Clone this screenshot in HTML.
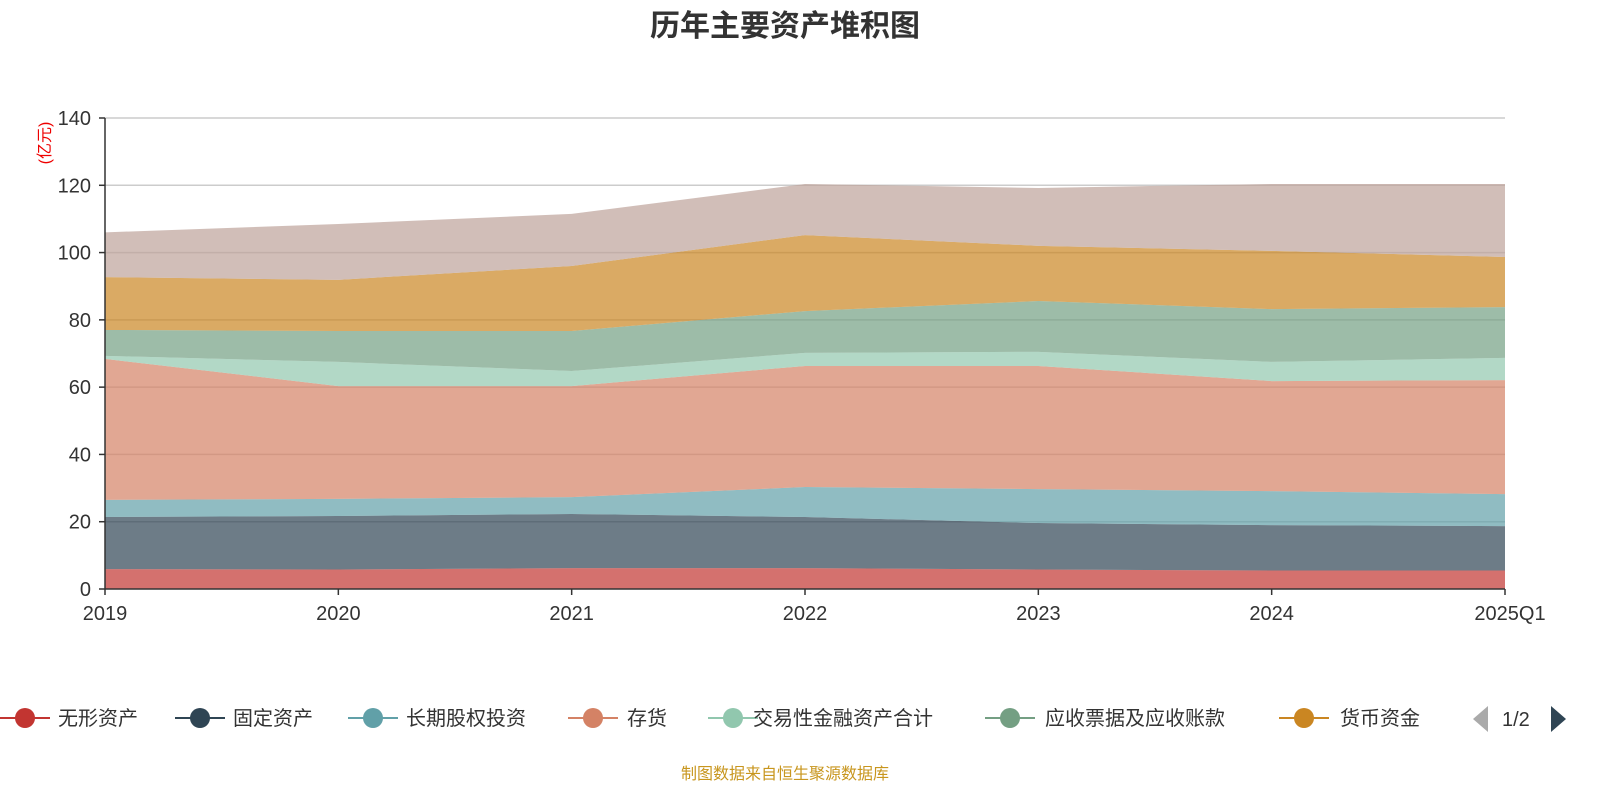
<!DOCTYPE html>
<html><head><meta charset="utf-8"><style>
html,body{margin:0;padding:0;background:#fff;}
svg{display:block;font-family:"Liberation Sans","Noto Sans CJK SC",sans-serif;}
</style></head><body>
<svg id="chart" width="1600" height="800">
<text x="785" y="36" text-anchor="middle" font-size="30" font-weight="bold" fill="#333">历年主要资产堆积图</text>
<text transform="translate(50,143) rotate(-90)" text-anchor="middle" font-size="16" fill="#e00">(亿元)</text>
<g id="grid"></g>
<g id="areas"></g>
<g id="axes"></g>
<g id="legend"></g>
<text x="785" y="779" text-anchor="middle" font-size="16" fill="#c8961e">制图数据来自恒生聚源数据库</text>
</svg>
<script>
const categories=["2019","2020","2021","2022","2023","2024","2025Q1"];
const seriesNames=["无形资产","固定资产","长期股权投资","存货","交易性金融资产合计","应收票据及应收账款","货币资金","其他"];
const s0=[5.9,5.8,6.2,6.2,5.8,5.5,5.5];
const s1=[15.5,15.9,16.1,15.2,13.8,13.5,13.2];
const s2=[5.1,5.1,5.0,8.9,10.1,10.1,9.5];
const s3=[41.9,33.5,33.0,36.0,36.6,32.7,33.9];
const s4=[0.9,7.2,4.5,3.9,4.2,5.7,6.6];
const s5=[7.7,9.2,11.9,12.4,15.1,15.7,15.1];
const s6=[15.7,15.2,19.3,22.6,16.4,17.3,14.9];
const s7=[13.3,16.6,15.5,15.2,17.2,19.9,21.7];
const yTicks=[0,20,40,60,80,100,120,140];
const colors=["#c23531","#2f4554","#61a0a8","#d48265","#91c7ae","#749f83","#ca8622","#bda29a"];
const NS="http://www.w3.org/2000/svg";
const X0=105,X1=1505,Y0=589,Y1=118,YMAX=140;
const xs=i=>X0+(X1-X0)*i/(categories.length-1);
const ys=v=>Y0-(Y0-Y1)*v/YMAX;
function mk(t,a,p){const e=document.createElementNS(NS,t);for(const k in a)e.setAttribute(k,a[k]);p.appendChild(e);return e;}
const grid=document.getElementById('grid'),areas=document.getElementById('areas'),axes=document.getElementById('axes'),legend=document.getElementById('legend');
yTicks.forEach(v=>{
 if(v>0){const l=mk('line',{x1:X0,x2:X1,y1:ys(v),y2:ys(v),stroke:'#ccc','stroke-width':1.5},grid);
 
 }
 const t=mk('text',{x:X0-14,y:ys(v)+7,'text-anchor':'end','font-size':20,fill:'#333'},axes);t.textContent=v;
 
 
 mk('line',{x1:X0-6,x2:X0,y1:ys(v),y2:ys(v),stroke:'#333','stroke-width':1.5},axes);
});
const series=[s0,s1,s2,s3,s4,s5,s6,s7];
let base=categories.map(()=>0);
series.forEach((s,k)=>{
 const top=base.map((b,i)=>b+s[i]);
 let d='M'+top.map((v,i)=>xs(i)+','+ys(v)).join(' L');
 for(let i=categories.length-1;i>=0;i--)d+=' L'+xs(i)+','+ys(base[i]);
 d+='Z';
 const p=mk('path',{d:d,fill:colors[k],'fill-opacity':0.7,stroke:'none'},areas);
 
 
 base=top;
});
mk('line',{x1:X0,x2:X0,y1:Y1,y2:Y0,stroke:'#333','stroke-width':1.5},axes);
mk('line',{x1:X0,x2:X1,y1:Y0,y2:Y0,stroke:'#333','stroke-width':1.5},axes);
categories.forEach((c,i)=>{
 mk('line',{x1:xs(i),x2:xs(i),y1:Y0,y2:Y0+6,stroke:'#333','stroke-width':1.5},axes);
 const anchor=i===categories.length-1?'middle':'middle';
 const t=mk('text',{x:xs(i)+(i===categories.length-1?5:0),y:Y0+31,'text-anchor':anchor,'font-size':20,fill:'#333'},axes);t.textContent=c;
 
 
});
const legX=[25,200,373,593,733,1010,1304];
const legT=[58,233,406,627,753,1045,1340];
for(let k=0;k<7;k++){
 const g=mk('g',{},legend);
 
 
 mk('line',{x1:legX[k]-25,x2:legX[k]+25,y1:718,y2:718,stroke:colors[k],'stroke-width':2},g);
 mk('circle',{cx:legX[k],cy:718,r:10,fill:colors[k]},g);
 const t=mk('text',{x:legT[k],y:725,'font-size':20,fill:'#333'},g);t.textContent=seriesNames[k];
}
mk('circle',{cx:1481,cy:718,r:1,fill:'#bda29a'},legend);
const pl=mk('path',{d:'M1488,706 L1473,719 L1488,732Z',fill:'#aaa'},legend);


const pt=mk('text',{x:1502,y:726,'font-size':20,fill:'#333'},legend);pt.textContent='1/2';


const pn=mk('path',{d:'M1551,706 L1566,719 L1551,732Z',fill:'#2f4554'},legend);


</script>
</body></html>
